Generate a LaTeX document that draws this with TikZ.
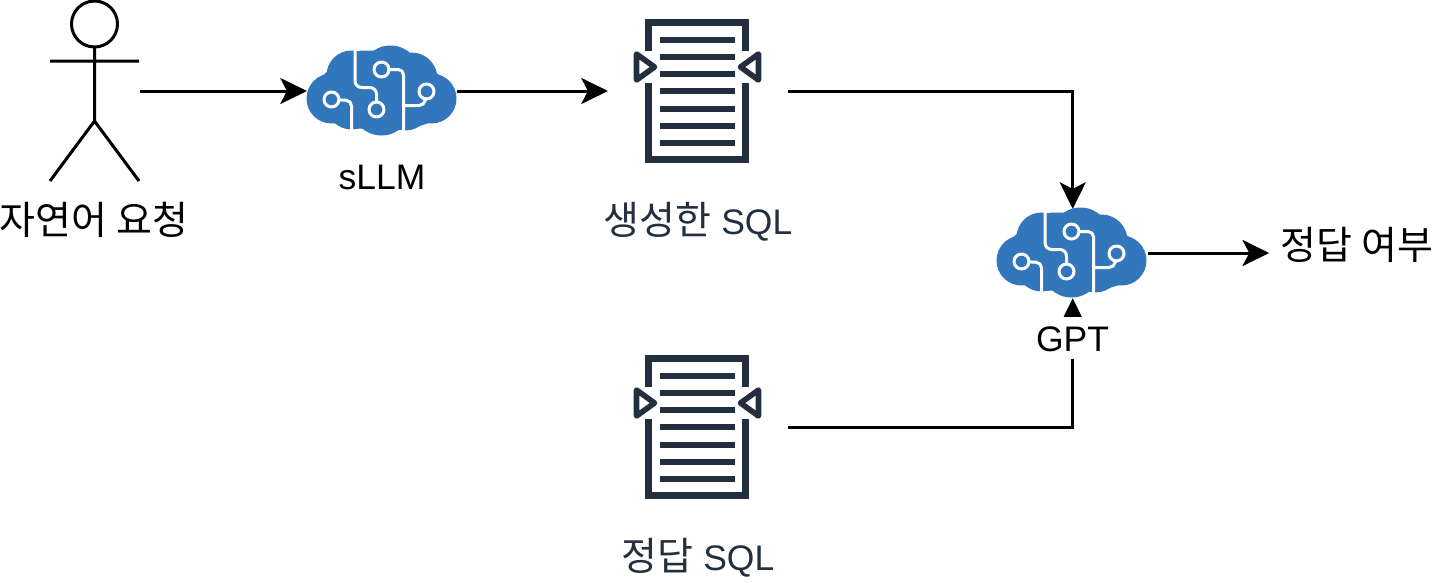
\documentclass[tikz,border=0pt]{standalone}
\usepackage{fontspec}
\setmainfont{Liberation Sans}
\newfontfamily\cjk[Scale=1.1]{Noto Sans CJK KR}
\usetikzlibrary{arrows.meta}
\definecolor{cloudblue}{HTML}{3277BC}
\definecolor{docnavy}{HTML}{232F3E}
\tikzset{
txt_n/.style = {inner sep=0pt, font=\fontsize{26.6}{32}\selectfont, text=black},
txt_d/.style = {txt_n, text=docnavy},% label under a document
box_c/.style = {rectangle, inner sep=0pt, minimum width=113.25pt, minimum height=67.5pt},% brain icon
box_d/.style = {rectangle, inner sep=0pt, minimum width=135.75pt, minimum height=108pt},% document icon
box_p/.style = {rectangle, inner sep=0pt, minimum width=67.5pt, minimum height=135pt},% stick figure
link/.style = {draw=black, line width=2.25pt, shorten >=-0.9pt, -{Stealth[length=20pt,width=19.5pt,inset=5pt]}},
pics/brain/.style = {code={
	\fill [cloudblue] (-50,8) circle [radius=18.75pt] (-30,-15) circle [radius=18.75pt] (-30,14) circle [radius=18.75pt]
		(9,-15) circle [radius=22.5pt] (30,-12) circle [radius=19.5pt] (50,8) circle [radius=18.75pt]
		(24,15) circle [radius=18.75pt] (0,15) circle [radius=22.5pt];
	\fill [cloudblue] (-61,-13) -- (-53,-20) -- (-46,-33) -- (-20,-40) -- (20,-40) -- (45,-31) -- (53,-19) -- (62,-12) -- (62,28) -- (30,38) -- (-30,38) -- (-62,28) -- cycle;
	\begin{scope}[draw=white, line width=2.25pt]
	\draw [rounded corners=5pt] (-26.5,-42) -- (-26.5,-3) -- (-5,-3) -- (-5,19);
	\draw [rounded corners=4pt] (0,-21) -- (22,-21) -- (22,42);
	\draw [rounded corners=4pt] (22,15) -- (43,15) -- (45,1);
	\draw [rounded corners=4pt] (-50,9) -- (-30,10) -- (-30,42);
	\foreach \cx/\cy in {-5/19, 0/-21, 45/1, -50/9}
		\draw [fill=cloudblue] (\cx,\cy) circle [radius=5.6pt];
	\end{scope}
}},
pics/sqldoc/.style = {code={
	\draw [docnavy, line width=5.25pt] (-49,-40) -- (-49,-68.5) -- (48,-68.5) -- (48,-40);
	\draw [docnavy, line width=5.25pt] (-49,-8) -- (-49,68.5) -- (48,68.5) -- (48,-8);
	\foreach \ly in {-51,-34,-17,0,18,35,52}
		\fill [docnavy] (-37.5,\ly-3.3) rectangle (37.5,\ly+3.3);
	\draw [docnavy, line width=4.2pt, line join=round] (-61,-37) -- (-61,-11) -- (-43,-24) -- cycle;
	\draw [docnavy, line width=4.2pt, line join=round] (61,-37) -- (61,-11) -- (43,-24) -- cycle;
}}
}
\begin{document}
\begin{tikzpicture}[x=0.75pt, y=-0.75pt]
	\useasboundingbox (0,0) rectangle (1449,582);
	\node [box_p] (user) at (94.5,91) {};
	\node [box_c] (sllm) at (381.5,91) {};
	\node [box_d] (gensql) at (697.5,91) {};
	\node [box_d] (refsql) at (697.5,427) {};
	\node [box_c] (gpt) at (1072.7,253) {};
	\node [txt_n, anchor=west, text height=14.5pt, text depth=5.5pt] (answer) at (1268,253) {\hspace{9.5pt}{\cjk 정답 여부}};
	\draw [link] (user) -- (sllm);
	\draw [link] (sllm) -- (gensql);
	\draw [link] (gensql.east) -| (gpt.north);
	\draw [link] (gpt.east) -- (answer);
	\draw [link, shorten >=0pt] (refsql.east) -| (gpt.south);
	\pic at (381.5,90.5) {brain};
	\pic at (1071.5,252.5) {brain};
	\pic at (gensql) {sqldoc};
	\pic at (refsql) {sqldoc};
	\draw [line width=2.25pt] (94.5,24) circle [radius=17.25pt];
	\draw [line width=2.25pt] (94.5,47) -- (94.5,121) (50,61) -- (139,61) (50,181) -- (94.5,121) -- (139,181);
	\node [txt_n, anchor=base] (userlab) at (94,234) {\cjk 자연어 요청};
	\node [txt_n, anchor=base] (sllmlab) at (382,189) {sLLM};
	\node [txt_d, anchor=base] (genlab) at (698,234) {{\cjk 생성한} SQL};
	\node [txt_d, anchor=base] (reflab) at (698,570) {{\cjk 정답} SQL};
	\node [txt_n, anchor=base, fill=white, text height=25.5pt, text depth=6pt] (gptlab) at (1072.5,351) {GPT};
\end{tikzpicture}
\end{document}
